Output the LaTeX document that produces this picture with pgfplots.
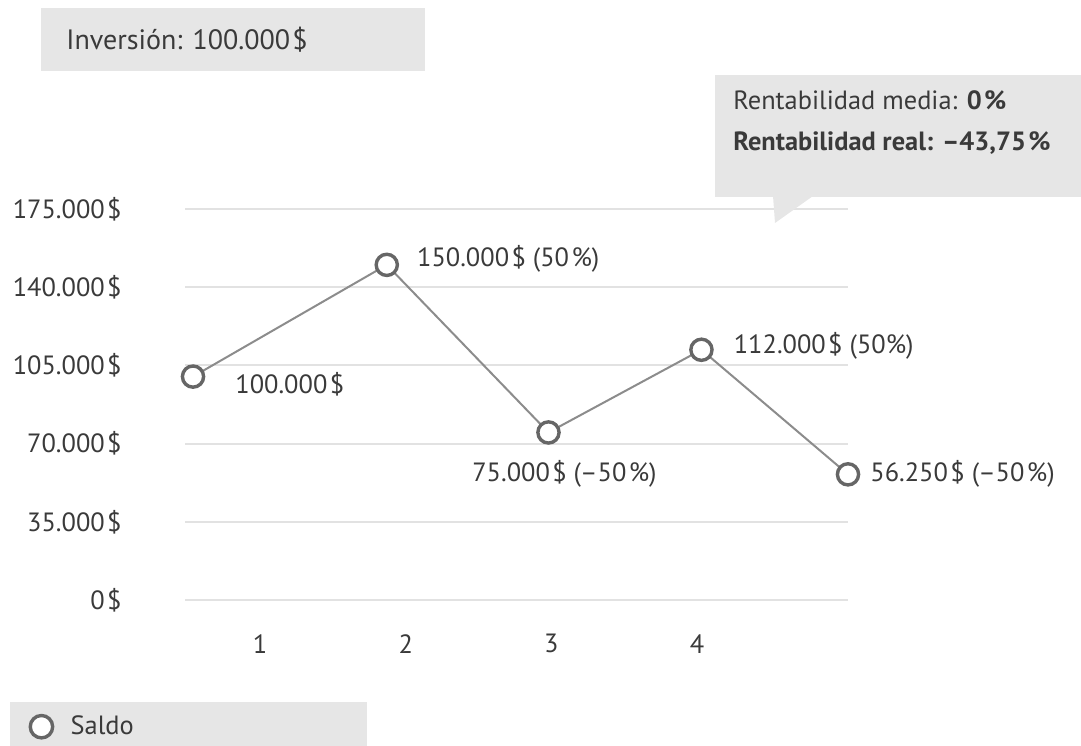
\documentclass[border=0pt]{standalone}
\usepackage{pgfplots}
\pgfplotsset{compat=1.18}
\usepackage{fontspec}
\setmainfont{PT Sans}
\definecolor{txt}{HTML}{3A3A3A}
\definecolor{boxg}{HTML}{E6E6E6}
\definecolor{gridg}{HTML}{E2E2E2}
\definecolor{lineg}{HTML}{8C8C8C}
\definecolor{markg}{HTML}{666666}
\newcommand{\fs}{\fontsize{13.2}{15}\selectfont}
\newcommand{\ts}{\kern1.2pt}
\begin{document}
\begin{tikzpicture}
\path[use as bounding box] (0,0) rectangle (540.5pt,-372.5pt);
% Inversion box
\fill[boxg] (20.5pt,-4pt) rectangle (212.5pt,-35.5pt);
\node[anchor=west, inner sep=0pt, text=txt, font=\fontsize{14}{16}\selectfont] at (33pt,-20pt) {Inversión: 100.000\ts\$};
% legend box
\fill[boxg] (5pt,-351pt) rectangle (183.5pt,-373pt);
\begin{axis}[
  at={(92.5pt,-300pt)}, anchor=south west,
  scale only axis, width=331.5pt, height=195.5pt,
  xmin=0.485, xmax=5.036, ymin=0, ymax=175000,
  clip=false,
  axis line style={draw=none},
  major tick length=0pt,
  ymajorgrids, grid style={gridg, line width=1pt},
  xtick={1,2,3,4},
  ytick={0,35000,70000,105000,140000,175000},
  yticklabels={0\ts\$,35.000\ts\$,70.000\ts\$,105.000\ts\$,140.000\ts\$,175.000\ts\$},
  scaled y ticks=false,
  /pgf/number format/assume math mode=true,
  tick label style={font=\fs, text=txt, inner sep=0pt},
  yticklabel style={anchor=east, xshift=-31.5pt},
  xticklabel style={anchor=north, yshift=-17pt},
  legend style={draw=none, fill=none, at={(axis description cs:-0.234,-0.324)}, anchor=west, font=\fs, text=txt, inner sep=0pt},
  legend cell align=left,
  legend image code/.code={\draw[#1] plot[mark=*, mark size=5.6pt] coordinates {(0pt,0pt)};},
]
\addplot[color=lineg, line width=1pt, mark=*, mark size=5.3pt,
  mark options={draw=markg, fill=white, line width=1.7pt}]
  coordinates {(0.54,100000) (1.87,150000) (2.98,75000) (4.03,112000) (5.036,56250)};
\addlegendentry{\hspace{7pt}Saldo}
\node[anchor=west, text=txt, font=\fs, inner sep=0pt] at (axis cs:0.54,100000) [xshift=21pt, yshift=-4pt] {100.000\ts\$};
\node[anchor=west, text=txt, font=\fs, inner sep=0pt] at (axis cs:1.87,150000) [xshift=15pt, yshift=3pt] {150.000\ts\$ (50\ts\%)};
\node[anchor=north, text=txt, font=\fs, inner sep=0pt] at (axis cs:2.98,75000) [xshift=8pt, yshift=-14pt] {75.000\ts\$ (–50\ts\%)};
\node[anchor=west, text=txt, font=\fs, inner sep=0pt] at (axis cs:4.03,112000) [xshift=16pt, yshift=2pt] {112.000\ts\$ (50\%)};
\node[anchor=west, text=txt, font=\fs, inner sep=0pt] at (axis cs:5.036,56250) [xshift=11pt] {56.250\ts\$ (–50\ts\%)};
\end{axis}
% callout
\fill[boxg] (357.5pt,-37.5pt) rectangle (541pt,-98.5pt);
\fill[boxg] (386.5pt,-98pt) -- (406.5pt,-98pt) -- (387.5pt,-111.5pt) -- cycle;
\node[anchor=west, inner sep=0pt, text=txt, font=\fs] at (366.5pt,-50pt) {Rentabilidad media: \textbf{0\ts\%}};
\node[anchor=west, inner sep=0pt, text=txt, font=\fs] at (366.5pt,-71.5pt) {\textbf{Rentabilidad real: –43,75\ts\%}};
\end{tikzpicture}
\end{document}
